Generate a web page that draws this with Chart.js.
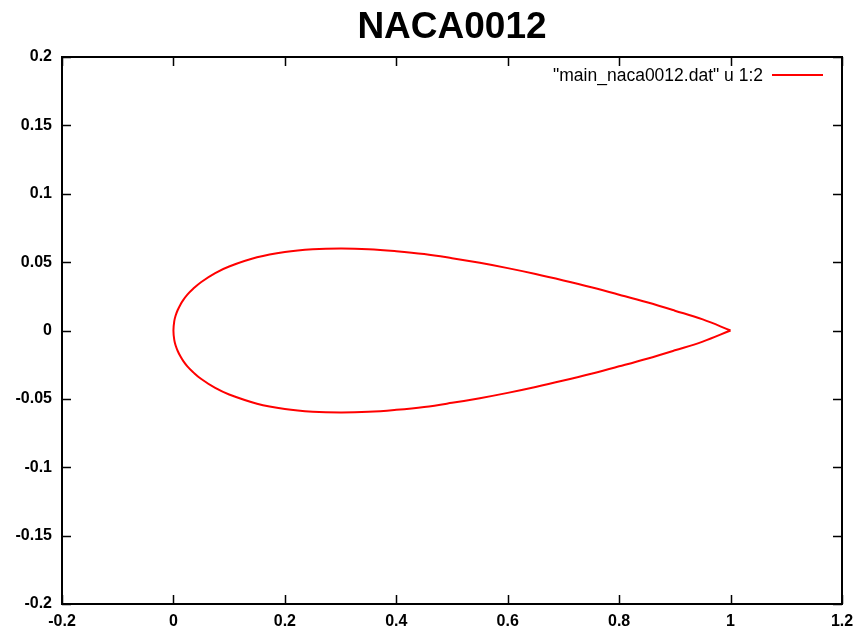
<!DOCTYPE html>
<html>
<head>
<meta charset="utf-8">
<script src="https://cdn.jsdelivr.net/npm/chart.js@4.4.0/dist/chart.umd.min.js"></script>
<style>
  html, body { margin: 0; padding: 0; background: #fff; }
  #wrap { width: 863px; height: 637px; }
</style>
</head>
<body>
<div id="wrap"><canvas id="airfoil" width="863" height="637"></canvas></div>
<script>
// NACA0012 surface, trailing edge -> leading edge -> trailing edge
var xUpper = [1.0, 0.95, 0.9, 0.85, 0.8, 0.75, 0.7, 0.65, 0.6, 0.55, 0.5, 0.45, 0.4, 0.35, 0.3, 0.25, 0.2, 0.15, 0.1, 0.075, 0.05, 0.035, 0.025, 0.0175, 0.0125, 0.0075, 0.004, 0.0015, 0.0];
var yUpper = [0.0, 0.0081, 0.0145, 0.0206, 0.0262, 0.0316, 0.0366, 0.0413, 0.0456, 0.0495, 0.0529, 0.0559, 0.0580, 0.0595, 0.0600, 0.0594, 0.0574, 0.0535, 0.0468, 0.0420, 0.0355, 0.0303, 0.0262, 0.0222, 0.0189, 0.0148, 0.0110, 0.0068, 0.0];
var xLower = [0.0015, 0.004, 0.0075, 0.0125, 0.0175, 0.025, 0.035, 0.05, 0.075, 0.1, 0.15, 0.2, 0.25, 0.3, 0.35, 0.4, 0.45, 0.5, 0.55, 0.6, 0.65, 0.7, 0.75, 0.8, 0.85, 0.9, 0.95, 1.0];
var yLower = [-0.0068, -0.0110, -0.0148, -0.0189, -0.0222, -0.0262, -0.0303, -0.0355, -0.0420, -0.0468, -0.0535, -0.0574, -0.0594, -0.0600, -0.0595, -0.0580, -0.0559, -0.0529, -0.0495, -0.0456, -0.0413, -0.0366, -0.0316, -0.0262, -0.0206, -0.0145, -0.0081, 0.0];

var chartTitle = 'NACA0012';
var seriesLabel = '"main_naca0012.dat" u 1:2';
var xMin = -0.2, xMax = 1.2, xStep = 0.2;
var yMin = -0.2, yMax = 0.2, yStep = 0.05;

var points = [];
xUpper.forEach(function (x, i) { points.push({x: x, y: yUpper[i]}); });
xLower.forEach(function (x, i) { points.push({x: x, y: yLower[i]}); });

function fmt(v) {
    return String(Math.round(v * 100) / 100);
}

// gnuplot look: frame, inward ticks on all sides, title, key in the top right
var gnuplotFrame = {
    id: 'gnuplotFrame',
    afterDraw: function (chart) {
        var ctx = chart.ctx;
        var a = chart.chartArea;
        var sx = chart.scales.x, sy = chart.scales.y;
        var tick = 9;
        ctx.save();
        ctx.strokeStyle = '#000';
        ctx.lineWidth = 2;
        ctx.strokeRect(a.left, a.top, a.right - a.left, a.bottom - a.top);
        ctx.lineWidth = 1.5;
        ctx.beginPath();
        sx.ticks.forEach(function (t) {
            var px = Math.round(sx.getPixelForValue(t.value)) + 0.5;
            ctx.moveTo(px, a.bottom); ctx.lineTo(px, a.bottom - tick);
            ctx.moveTo(px, a.top); ctx.lineTo(px, a.top + tick);
        });
        sy.ticks.forEach(function (t) {
            var py = Math.round(sy.getPixelForValue(t.value)) + 0.5;
            ctx.moveTo(a.left, py); ctx.lineTo(a.left + tick, py);
            ctx.moveTo(a.right, py); ctx.lineTo(a.right - tick, py);
        });
        ctx.stroke();

        ctx.fillStyle = '#000';
        ctx.font = 'bold 37px "Liberation Sans", Arial, sans-serif';
        ctx.textAlign = 'center';
        ctx.textBaseline = 'middle';
        ctx.fillText(chartTitle, (a.left + a.right) / 2, 28);

        ctx.font = '17.5px "Liberation Sans", Arial, sans-serif';
        ctx.textAlign = 'right';
        ctx.fillText(seriesLabel, a.right - 79, a.top + 19);
        ctx.strokeStyle = '#ff0000';
        ctx.lineWidth = 2;
        ctx.beginPath();
        ctx.moveTo(a.right - 70, a.top + 18);
        ctx.lineTo(a.right - 19, a.top + 18);
        ctx.stroke();
        ctx.restore();
    }
};

var ctx = document.getElementById('airfoil');
var airfoilChart = new Chart(ctx, {
    type: 'scatter',
    data: {
        datasets: [{
            label: seriesLabel,
            data: points,
            showLine: true,
            borderColor: '#ff0000',
            borderWidth: 2,
            pointRadius: 0,
            tension: 0.4,
            fill: false
        }]
    },
    options: {
        responsive: false,
        animation: false,
        layout: { padding: { left: 0, right: 21, top: 57, bottom: 0 } },
        plugins: {
            legend: { display: false },
            title: { display: false },
            tooltip: { enabled: false }
        },
        scales: {
            x: {
                type: 'linear',
                min: xMin, max: xMax,
                grid: { display: false },
                border: { display: false },
                afterFit: function (s) { s.height = 33; },
                ticks: {
                    stepSize: xStep, autoSkip: false, maxRotation: 0,
                    color: '#000', padding: 0,
                    font: { family: '"Liberation Sans", Arial, sans-serif', size: 16, weight: 'bold' },
                    callback: fmt
                }
            },
            y: {
                type: 'linear',
                min: yMin, max: yMax,
                grid: { display: false },
                border: { display: false },
                afterFit: function (s) { s.width = 62; },
                ticks: {
                    stepSize: yStep, autoSkip: false,
                    color: '#000', padding: 2,
                    font: { family: '"Liberation Sans", Arial, sans-serif', size: 16, weight: 'bold' },
                    callback: fmt
                }
            }
        }
    },
    plugins: [gnuplotFrame]
});
</script>
</body>
</html>
